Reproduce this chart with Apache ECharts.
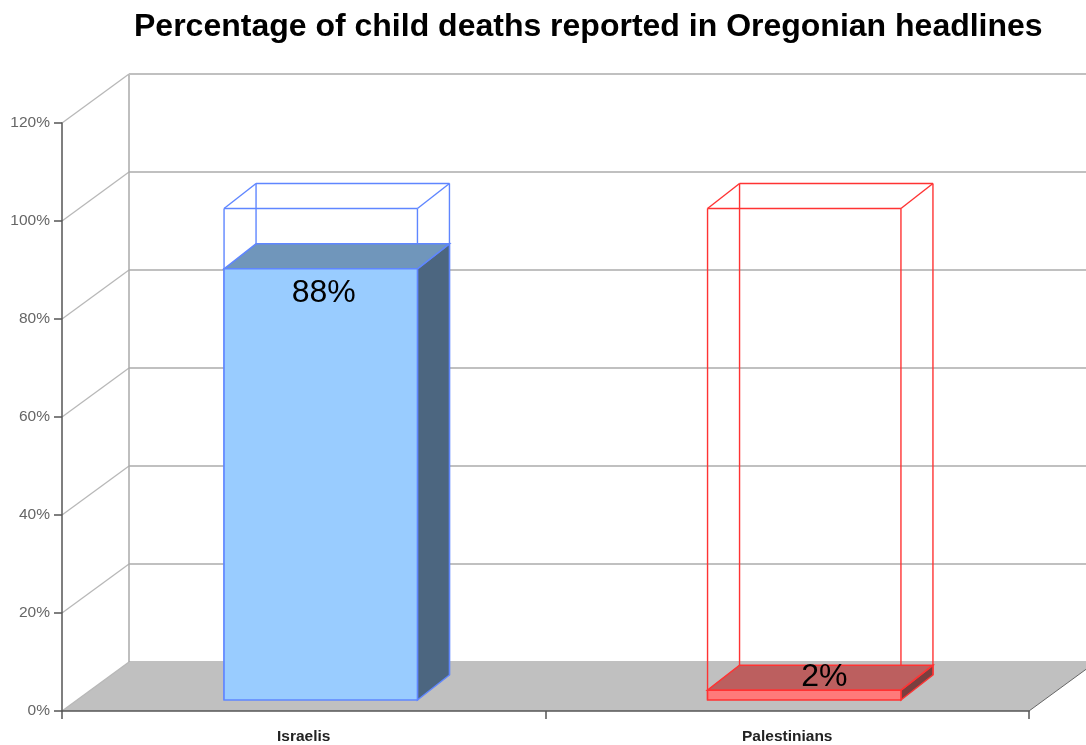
<!DOCTYPE html>
<html>
<head>
<meta charset="utf-8">
<title>Child deaths in headlines</title>
<script src="https://cdn.jsdelivr.net/npm/echarts@6/dist/echarts.min.js"></script>
<style>
  html, body { margin: 0; padding: 0; background: #fff; }
  #chart { width: 1086px; height: 745px; }
</style>
</head>
<body>
<div id="chart"></div>
<script>
const categories = ['Israelis', 'Palestinians'];
const shareValues = [88, 2];
const fullValues = [100, 100];
const yTicks = [0, 20, 40, 60, 80, 100, 120];

// depth of the fake 3d box, in pixels
const wallDx = 67;
const wallDy = -49;
const barInsetDx = 14;
const barInsetDy = -11;
const barDepthDx = 32;
const barDepthDy = -25;
const wireLift = 1.5;

const barColors = [
  { stroke: '#5f86ff', front: '#99ccff', top: '#7096bb', side: '#4c6680' },
  { stroke: '#ff3333', front: '#ff7a7a', top: '#bc5f5f', side: '#7a3f3f' }
];

function line(x1, y1, x2, y2, color, width) {
  return {
    type: 'line',
    shape: { x1: x1, y1: y1, x2: x2, y2: y2 },
    style: { stroke: color, lineWidth: width, fill: null }
  };
}

function poly(points, fill, stroke) {
  return {
    type: 'polygon',
    shape: { points: points },
    style: { fill: fill, stroke: stroke, lineWidth: stroke ? 1.5 : 0 }
  };
}

function renderWall(params, api) {
  const tick = api.value(1);
  const pos = api.coord([0, tick]);
  const band = api.size([1, 0])[0];
  const left = pos[0] - band / 2;
  const right = left + band * 2;
  const y = pos[1];
  const children = [];

  if (tick === 0) {
    children.push(poly([[left, y], [left + wallDx, y + wallDy], [right + wallDx, y + wallDy], [right, y]], '#c0c0c0'));
    children.push(line(right, y, right + wallDx, y + wallDy, '#666', 1));
  }
  if (tick === 120) {
    const bottom = api.coord([0, 0])[1];
    children.push(line(left + wallDx, y + wallDy, left + wallDx, bottom + wallDy, '#aaa', 1.5));
  }
  children.push(line(left, y, left + wallDx, y + wallDy, '#b8b8b8', 1.3));
  children.push(line(left + wallDx, y + wallDy, right + wallDx, y + wallDy, '#c0c0c0', 2));

  return { type: 'group', children: children };
}

function renderBar(params, api) {
  const i = api.value(0);
  const value = api.value(1);
  const full = api.value(2);
  const c = barColors[i];
  const base = api.coord([i, 0]);
  const w = api.size([1, 0])[0] * 0.4;
  const x0 = base[0] - w / 2 + barInsetDx + 3;
  const x1 = x0 + w;
  const y0 = base[1] + barInsetDy;
  const yTop = api.coord([i, value])[1] + barInsetDy;
  const yFull = api.coord([i, full])[1] + barInsetDy - wireLift;
  const dx = barDepthDx;
  const dy = barDepthDy;
  const small = value < 10;
  const wire = 1.4;

  return {
    type: 'group',
    children: [
      // wire box for 100%
      line(x0, y0, x0, yFull, c.stroke, wire),
      line(x1, y0, x1, yFull, c.stroke, wire),
      line(x0, yFull, x1, yFull, c.stroke, wire),
      line(x0 + dx, y0 + dy, x0 + dx, yFull + dy, c.stroke, wire),
      line(x1 + dx, y0 + dy, x1 + dx, yFull + dy, c.stroke, wire),
      line(x0 + dx, yFull + dy, x1 + dx, yFull + dy, c.stroke, wire),
      line(x0, yFull, x0 + dx, yFull + dy, c.stroke, wire),
      line(x1, yFull, x1 + dx, yFull + dy, c.stroke, wire),
      // solid bar
      poly([[x1, y0], [x1 + dx, y0 + dy], [x1 + dx, yTop + dy], [x1, yTop]], c.side, c.stroke),
      poly([[x0, yTop], [x0 + dx, yTop + dy], [x1 + dx, yTop + dy], [x1, yTop]], c.top, c.stroke),
      poly([[x0, y0], [x1, y0], [x1, yTop], [x0, yTop]], c.front, c.stroke),
      {
        type: 'text',
        x: (x0 + x1) / 2 + (small ? 20 : 3),
        y: small ? yTop - 13 : yTop + 24,
        style: {
          text: value + '%',
          fill: '#000',
          fontSize: 32,
          fontFamily: '"Liberation Sans", Arial, sans-serif',
          textAlign: 'center',
          textVerticalAlign: 'middle'
        }
      }
    ]
  };
}

const chart = echarts.init(document.getElementById('chart'), null, { renderer: 'canvas' });

chart.setOption({
  animation: false,
  backgroundColor: '#fff',
  title: {
    text: 'Percentage of child deaths reported in Oregonian headlines',
    left: 129,
    top: 6,
    textStyle: {
      color: '#000',
      fontSize: 32,
      fontWeight: 'bold',
      fontFamily: '"Liberation Sans", Arial, sans-serif'
    }
  },
  grid: { left: 62, right: 57, top: 123, bottom: 34 },
  xAxis: {
    type: 'category',
    data: categories,
    z: 5,
    axisLine: { lineStyle: { color: '#555', width: 1.5 } },
    axisTick: { show: true, interval: 0, alignWithLabel: false, length: 8, lineStyle: { color: '#555', width: 1.5 } },
    axisLabel: {
      color: '#222',
      fontSize: 15.5,
      fontWeight: 'bold',
      margin: 18,
      fontFamily: '"Liberation Sans", Arial, sans-serif'
    }
  },
  yAxis: {
    type: 'value',
    min: 0,
    max: 120,
    interval: 20,
    z: 5,
    splitLine: { show: false },
    axisLine: { show: true, lineStyle: { color: '#555', width: 1.5 } },
    axisTick: { show: true, length: 8, lineStyle: { color: '#555', width: 1.5 } },
    axisLabel: {
      color: '#666',
      fontSize: 15.5,
      margin: 12,
      formatter: '{value}%',
      fontFamily: '"Liberation Sans", Arial, sans-serif'
    }
  },
  series: [
    {
      type: 'custom',
      name: 'walls',
      silent: true,
      z: 1,
      clip: false,
      renderItem: renderWall,
      data: yTicks.map(function (t) { return [0, t]; })
    },
    {
      type: 'custom',
      name: 'share',
      z: 2,
      clip: false,
      renderItem: renderBar,
      data: shareValues.map(function (v, i) { return [i, v, fullValues[i]]; })
    }
  ]
});
</script>
</body>
</html>
